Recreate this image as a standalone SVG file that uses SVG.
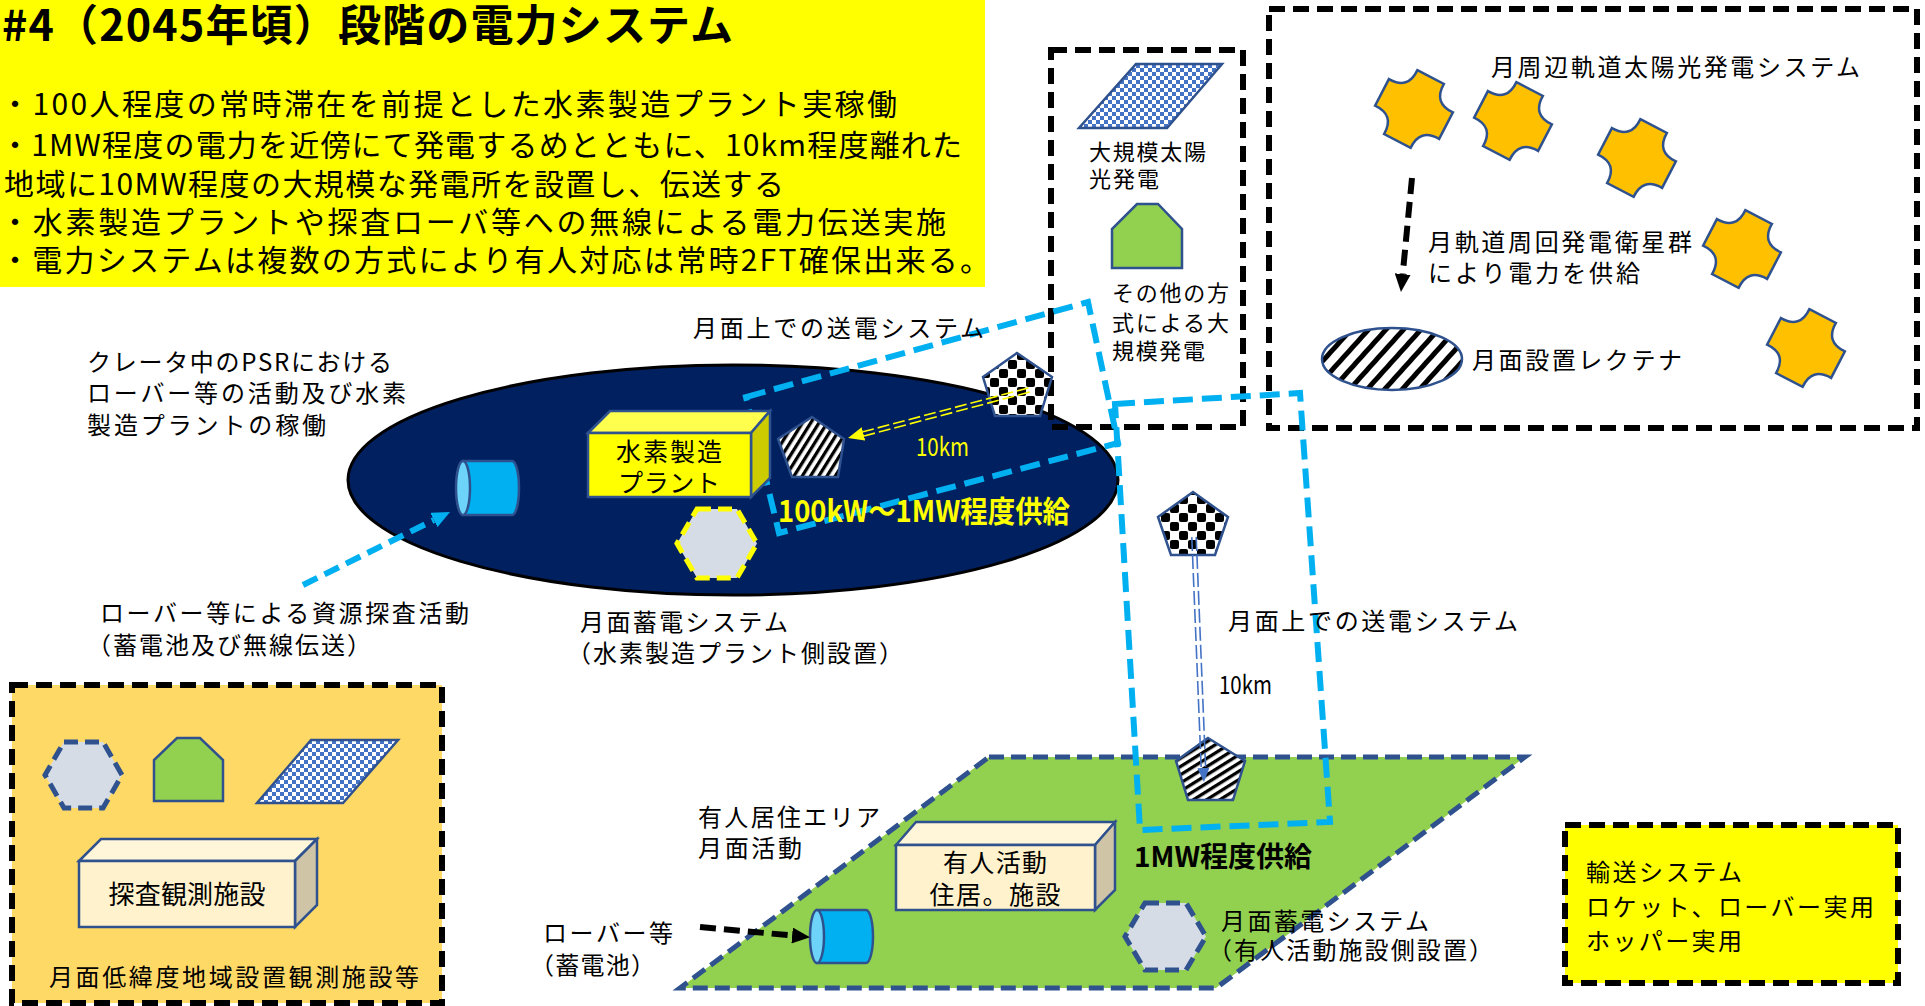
<svg xmlns="http://www.w3.org/2000/svg" width="1925" height="1006" viewBox="0 0 1925 1006">
  <style>
    text { font-family: "Noto Sans CJK JP", "Noto Sans", sans-serif; fill: #000; }
    .ttl { font-size: 43px; font-weight: 700; }
    .bul { font-size: 30px; }
    .lbl { font-size: 24px; }
    .sm { font-size: 22px; }
    .mid { font-size: 25px; text-anchor: middle; }
    .ylw { fill: #FFFF00; }
    .bold { font-weight: 700; }
    .frame { fill: none; stroke: #000; stroke-width: 6; stroke-dasharray: 16 8; }
    .zone { fill: none; stroke: #00B0F0; stroke-width: 6; stroke-dasharray: 20 9; }
    .edge { stroke: #2F528F; stroke-width: 2.5; }
    .star { fill: #FFC000; stroke: #2F528F; stroke-width: 2.5; }
    .hexb { fill: #D6DCE5; stroke: #2F528F; stroke-width: 5; stroke-dasharray: 14 7; }
    .hexy { fill: #D6DCE5; stroke: #FFFF00; stroke-width: 5; stroke-dasharray: 14 7; }
    .house { fill: #92D050; stroke: #2F528F; stroke-width: 2.5; }
    .cyl { fill: #00B0F0; stroke: #2F528F; stroke-width: 2.5; }
    .cylf { fill: #6DD3F8; stroke: #2F528F; stroke-width: 2.5; }
  </style>
  <defs>
    <pattern id="chkBlue" width="8" height="8" patternUnits="userSpaceOnUse">
      <rect width="8" height="8" fill="#fff"/>
      <rect width="4" height="4" fill="#4472C4"/>
      <rect x="4" y="4" width="4" height="4" fill="#4472C4"/>
    </pattern>
    <pattern id="chkBlack" width="18" height="18" patternUnits="userSpaceOnUse">
      <rect width="18" height="18" fill="#fff"/>
      <rect width="9" height="9" rx="2" fill="#000"/>
      <rect x="9" y="9" width="9" height="9" rx="2" fill="#000"/>
    </pattern>
    <pattern id="stripeA" width="7" height="7" patternUnits="userSpaceOnUse" patternTransform="rotate(32)">
      <rect width="7" height="7" fill="#fff"/>
      <rect width="3.3" height="7" fill="#000"/>
    </pattern>
    <pattern id="stripeB" width="7" height="7" patternUnits="userSpaceOnUse" patternTransform="rotate(58)">
      <rect width="7" height="7" fill="#fff"/>
      <rect width="3.3" height="7" fill="#000"/>
    </pattern>
    <pattern id="stripeW" width="13" height="13" patternUnits="userSpaceOnUse" patternTransform="rotate(42)">
      <rect width="13" height="13" fill="#fff"/>
      <rect width="5" height="13" fill="#000"/>
    </pattern>
    <!-- notched satellite outline, centred on the origin -->
    <path id="sat" d="M3.4,-38.9 L29.9,-25.1 Q19,-6 38.9,3.4 L25.1,29.9 Q6,19 -3.4,38.9 L-29.9,25.1 Q-19,6 -38.9,-3.4 L-25.1,-29.9 Q-6,-19 3.4,-38.9 Z"/>
    <marker id="ahSky" markerUnits="userSpaceOnUse" markerWidth="18" markerHeight="16" refX="0" refY="8" orient="auto">
      <path d="M0,0 L18,8 L0,16 Z" fill="#00B0F0"/>
    </marker>
    <marker id="ahBlack" markerUnits="userSpaceOnUse" markerWidth="18" markerHeight="16" refX="0" refY="8" orient="auto">
      <path d="M0,0 L18,8 L0,16 Z" fill="#000"/>
    </marker>
    <marker id="ahYellow" markerUnits="userSpaceOnUse" markerWidth="16" markerHeight="14" refX="0" refY="7" orient="auto">
      <path d="M0,0 L16,7 L0,14 Z" fill="#FFFF00"/>
    </marker>
    <marker id="ahBlue" markerUnits="userSpaceOnUse" markerWidth="14" markerHeight="12" refX="0" refY="6" orient="auto">
      <path d="M0,0 L14,6 L0,12 Z" fill="#4472C4"/>
    </marker>
  </defs>

  <!-- heading panel -->
  <g id="heading">
    <rect x="0" y="0" width="985" height="287" fill="#FFFF00"/>
    <text class="ttl" x="2" y="41" textLength="731">#4（2045年頃）段階の電力システム</text>
    <text class="bul" x="0" y="115" textLength="897">・100人程度の常時滞在を前提とした水素製造プラント実稼働</text>
    <text class="bul" x="0" y="156" textLength="962">・1MW程度の電力を近傍にて発電するめとともに、10km程度離れた</text>
    <text class="bul" x="4" y="195" textLength="780">地域に10MW程度の大規模な発電所を設置し、伝送する</text>
    <text class="bul" x="0" y="233" textLength="946">・水素製造プラントや探査ローバ等への無線による電力伝送実施</text>
    <text class="bul" x="0" y="271" textLength="990">・電力システムは複数の方式により有人対応は常時2FT確保出来る。</text>
  </g>

  <!-- crater (PSR) area -->
  <g id="crater">
    <ellipse cx="733" cy="480" rx="385" ry="115" fill="#002060" stroke="#000" stroke-width="3"/>
  </g>

  <!-- legend frame: large-scale generation types -->
  <g id="legend">
    <rect class="frame" x="1051" y="50" width="192" height="377"/>
    <polygon points="1136,64 1222,64 1167,128 1079,128" fill="url(#chkBlue)" class="edge"/>
    <text class="sm" x="1089" y="160" textLength="117">大規模太陽</text>
    <text class="sm" x="1089" y="187" textLength="70">光発電</text>
    <polygon class="house" points="1137,204 1158,204 1182,229 1182,268 1112,268 1112,229"/>
    <text class="sm" x="1112" y="301" textLength="117">その他の方</text>
    <text class="sm" x="1112" y="331" textLength="117">式による大</text>
    <text class="sm" x="1112" y="359" textLength="93">規模発電</text>
  </g>

  <!-- orbital solar power frame -->
  <g id="orbital">
    <rect class="frame" x="1269" y="9" width="648" height="419"/>
    <text class="lbl" x="1491" y="76" textLength="369">月周辺軌道太陽光発電システム</text>
    <use href="#sat" class="star" transform="translate(1414,109)"/>
    <use href="#sat" class="star" transform="translate(1513,121)"/>
    <use href="#sat" class="star" transform="translate(1637,158)"/>
    <use href="#sat" class="star" transform="translate(1742,249)"/>
    <use href="#sat" class="star" transform="translate(1806,348)"/>
    <text class="lbl" x="1428" y="251" textLength="264">月軌道周回発電衛星群</text>
    <text class="lbl" x="1428" y="282" textLength="212">により電力を供給</text>
    <ellipse cx="1392" cy="359" rx="70" ry="31" fill="url(#stripeW)" class="edge"/>
    <text class="lbl" x="1472" y="369" textLength="210">月面設置レクテナ</text>
  </g>

  <!-- habitation area -->
  <g id="habitat-area">
    <polygon points="989,757 1525,757 1216,988 680,988" fill="#92D050" stroke="#2F528F" stroke-width="5" stroke-dasharray="15 7"/>
  </g>

  <!-- low-latitude observation facilities -->
  <g id="observatory">
    <rect x="12" y="685" width="430" height="318" fill="#FFD966" stroke="#000" stroke-width="6" stroke-dasharray="16 8"/>
    <polygon class="hexb" points="64,742 103,742 122,775 103,808 64,808 45,775"/>
    <polygon class="house" points="177,738 200,738 223,760 223,801 154,801 154,760"/>
    <polygon points="311,740 398,740 343,803 257,803" fill="url(#chkBlue)" class="edge"/>
    <polygon points="79,861 101,839 317,839 295,861" fill="#FFF5D9" class="edge"/>
    <polygon points="295,861 317,839 317,905 295,927" fill="#CFC4A6" class="edge"/>
    <rect x="79" y="861" width="216" height="66" fill="#FFF2CC" class="edge"/>
    <text class="mid" x="187" y="904" style="font-size:26px" textLength="157">探査観測施設</text>
    <text class="lbl" x="49" y="986" textLength="370">月面低緯度地域設置観測施設等</text>
  </g>

  <!-- transport systems -->
  <g id="transport">
    <rect x="1565" y="825" width="333" height="158" fill="#FFFF00" stroke="#000" stroke-width="6" stroke-dasharray="16 8"/>
    <text class="lbl" x="1586" y="881" textLength="156">輸送システム</text>
    <text class="lbl" x="1586" y="916" textLength="288">ロケット、ローバー実用</text>
    <text class="lbl" x="1586" y="950" textLength="156">ホッパー実用</text>
  </g>

  <!-- wireless power coverage zones -->
  <g id="coverage">
    <polygon class="zone" points="746,397 1088,302 1118,443 779,533"/>
    <polygon class="zone" points="1115,404 1300,393 1330,822 1140,830"/>
  </g>

  <!-- hydrogen production plant -->
  <g id="h2-plant">
    <polygon points="588,433 610,411 770,411 751,433" fill="#FFFF4D" class="edge"/>
    <polygon points="751,433 770,411 770,478 751,497" fill="#CCCC00" class="edge"/>
    <rect x="588" y="433" width="163" height="64" fill="#FFFF00" class="edge"/>
    <text class="mid" x="669" y="461" textLength="106">水素製造</text>
    <text class="mid" x="669" y="492" textLength="102">プラント</text>
  </g>

  <!-- rover in crater -->
  <g id="rover-crater">
    <path class="cyl" d="M463,461 L512,461 A7,27 0 0 1 512,515 L463,515 Z"/>
    <ellipse class="cylf" cx="463" cy="488" rx="7" ry="27"/>
  </g>

  <!-- plant-side storage -->
  <g id="storage-plant">
    <polygon class="hexy" points="697,509 737,509 757,543.5 737,578 697,578 677,543.5"/>
  </g>

  <!-- receiver at plant -->
  <g id="receiver-plant">
    <polygon points="812,417 844,439 838,477 792,477 778,439" fill="url(#stripeA)" class="edge"/>
  </g>

  <!-- transmitter near crater rim -->
  <g id="transmitter-rim">
    <polygon points="1017,353 1052,377 1040,416 995,416 983,377" fill="url(#chkBlack)" class="edge"/>
  </g>

  <!-- transmitter to habitat -->
  <g id="transmitter-mid">
    <polygon points="1193,492 1228,517 1215,555 1171,555 1158,517" fill="url(#chkBlack)" class="edge"/>
  </g>

  <!-- receiver at habitat -->
  <g id="receiver-habitat">
    <polygon points="1208,738 1245,761 1233,800 1188,800 1176,761" fill="url(#stripeB)" class="edge"/>
  </g>

  <!-- habitation module -->
  <g id="habitat">
    <polygon points="896,845 916,822 1115,822 1095,845" fill="#FFF5D9" class="edge"/>
    <polygon points="1095,845 1115,822 1115,890 1095,910" fill="#CFC4A6" class="edge"/>
    <rect x="896" y="845" width="199" height="65" fill="#FFF2CC" class="edge"/>
    <text class="mid" x="995" y="872" textLength="104">有人活動</text>
    <text class="mid" x="995" y="904" textLength="131">住居。施設</text>
  </g>

  <!-- rover at habitat -->
  <g id="rover-habitat">
    <path class="cyl" d="M817,910 L866,910 A7,26.5 0 0 1 866,963 L817,963 Z"/>
    <ellipse class="cylf" cx="817" cy="936.5" rx="7" ry="26.5"/>
  </g>

  <!-- habitat-side storage -->
  <g id="storage-habitat">
    <polygon class="hexb" points="1145,903 1186,903 1206,936.5 1186,970 1145,970 1125,936.5"/>
  </g>

  <!-- connectors -->
  <g id="connectors">
    <line x1="303" y1="585" x2="433.9" y2="520" stroke="#00B0F0" stroke-width="6" stroke-dasharray="16 8" marker-end="url(#ahSky)"/>
    <line x1="700" y1="927" x2="792.1" y2="935.5" stroke="#000" stroke-width="6" stroke-dasharray="16 8" marker-end="url(#ahBlack)"/>
    <line x1="1412" y1="178" x2="1402.7" y2="274.1" stroke="#000" stroke-width="6" stroke-dasharray="16 8" marker-end="url(#ahBlack)"/>
    <g stroke="#FFFF00" stroke-width="1.6" stroke-dasharray="12 4">
      <line x1="1029.6" y1="392.1" x2="864.1" y2="436"/>
      <line x1="1028.4" y1="387.9" x2="862.9" y2="431.8"/>
    </g>
    <path d="M1029,390 L863.5,433.9" fill="none" stroke="none" marker-end="url(#ahYellow)"/>
    <g stroke="#4472C4" stroke-width="1.6" stroke-dasharray="14 4">
      <line x1="1196.2" y1="536.9" x2="1205.6" y2="767.9"/>
      <line x1="1191.8" y1="537.1" x2="1201.2" y2="768.1"/>
    </g>
    <path d="M1194,537 L1203.4,768" fill="none" stroke="none" marker-end="url(#ahBlue)"/>
  </g>

  <!-- labels -->
  <g id="labels">
    <text class="lbl" x="87" y="371" textLength="305">クレータ中のPSRにおける</text>
    <text class="lbl" x="87" y="402" textLength="319">ローバー等の活動及び水素</text>
    <text class="lbl" x="87" y="434" textLength="239">製造プラントの稼働</text>
    <text class="lbl" x="693" y="337" textLength="291">月面上での送電システム</text>
    <text class="ylw" x="916" y="456" style="font-size:25px" textLength="53" lengthAdjust="spacingAndGlyphs">10km</text>
    <text class="ylw bold" x="778" y="522" style="font-size:30px" textLength="292" lengthAdjust="spacingAndGlyphs">100kW～1MW程度供給</text>
    <text class="lbl" x="100" y="622" textLength="369">ローバー等による資源探査活動</text>
    <text class="lbl" x="87" y="654" textLength="284">（蓄電池及び無線伝送）</text>
    <text class="lbl" x="580" y="631" textLength="208">月面蓄電システム</text>
    <text class="lbl" x="567" y="662" textLength="336">（水素製造プラント側設置）</text>
    <text class="lbl" x="1228" y="630" textLength="290">月面上での送電システム</text>
    <text x="1219" y="694" style="font-size:25px" textLength="53" lengthAdjust="spacingAndGlyphs">10km</text>
    <text class="lbl" x="698" y="826" textLength="182">有人居住エリア</text>
    <text class="lbl" x="698" y="857" textLength="104">月面活動</text>
    <text class="bold" x="1134" y="867" style="font-size:28px" textLength="178" lengthAdjust="spacingAndGlyphs">1MW程度供給</text>
    <text class="lbl" x="543" y="942" textLength="130">ローバー等</text>
    <text class="lbl" x="530" y="974" textLength="125">（蓄電池）</text>
    <text class="lbl" x="1221" y="930" textLength="208">月面蓄電システム</text>
    <text class="lbl" x="1208" y="959" textLength="285">（有人活動施設側設置）</text>
  </g>
</svg>
